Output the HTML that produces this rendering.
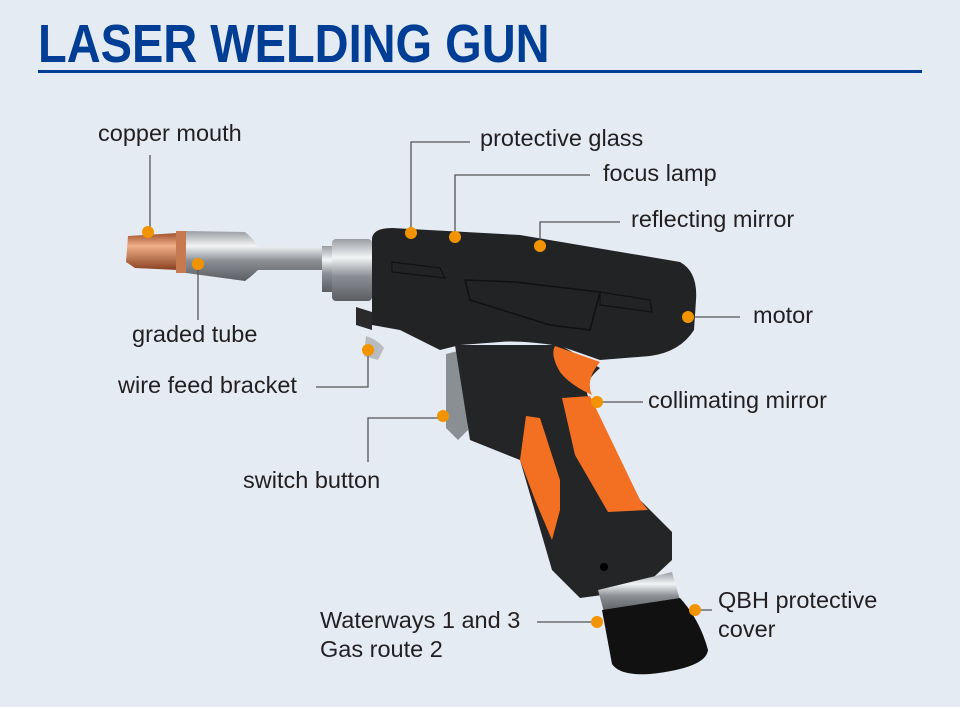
<!DOCTYPE html>
<html><head><meta charset="utf-8"><style>
html,body{margin:0;padding:0;background:#e5ebf3;}
#c{position:relative;width:960px;height:707px;overflow:hidden;background:#e5ebf3;font-family:"Liberation Sans",sans-serif;}
.t{position:absolute;font-size:23.5px;color:#231f20;white-space:nowrap;line-height:1;}
h1{position:absolute;left:38px;top:17px;margin:0;font-family:"Liberation Sans",sans-serif;font-weight:bold;font-size:54px;color:#003d94;letter-spacing:0px;transform:scaleX(0.87);transform-origin:left;line-height:1;white-space:nowrap;}
</style></head><body><div id="c">
<h1>LASER WELDING GUN</h1>
<div style="position:absolute;left:38px;top:70px;width:884px;height:3px;background:#003d94"></div>
<svg width="960" height="707" style="position:absolute;left:0;top:0">
<defs>
<linearGradient id="sv" x1="0" y1="0" x2="0" y2="1"><stop offset="0" stop-color="#9a9ea3"/><stop offset="0.3" stop-color="#f2f4f5"/><stop offset="0.6" stop-color="#8b8f94"/><stop offset="1" stop-color="#5a5e62"/></linearGradient>
<linearGradient id="cu" x1="0" y1="0" x2="0" y2="1"><stop offset="0" stop-color="#a0522d"/><stop offset="0.35" stop-color="#f0b08a"/><stop offset="1" stop-color="#8a4020"/></linearGradient>
</defs>
<path d="M128,236 L178,233 L178,270 L135,268 L126,262 Z" fill="url(#cu)"/>
<rect x="176" y="231" width="12" height="42" fill="#c77a4f"/>
<path d="M186,231 L245,232 Q255,240 258,247 L330,248 L330,270 L258,270 Q252,276 245,281 L186,273 Z" fill="url(#sv)"/>
<rect x="322" y="246" width="12" height="46" fill="url(#sv)"/>
<rect x="332" y="239" width="40" height="62" rx="4" fill="url(#sv)"/>
<path d="M372,238 Q374,228 392,228 L520,235 L680,262 Q698,272 696,300 L694,330 Q680,352 650,356 L600,360 L560,346 Q520,340 500,342 L460,345 L440,350 L400,330 L372,325 Z" fill="#222325"/>
<path d="M356,307 L372,312 L372,330 L356,325 Z" fill="#2a2a2c"/>
<path d="M366,336 Q378,340 384,348 L378,360 L364,356 Z" fill="#b8bcc0"/>
<path d="M446,354 L462,350 L468,430 L458,440 L446,428 Z" fill="#8a8f94"/>
<path d="M455,345 L560,345 L600,368 Q580,385 590,400 L640,500 L672,532 L672,560 L640,590 L580,598 L552,570 L520,460 L470,440 Z" fill="#242527"/>
<path d="M555,346 L600,362 Q585,380 592,395 Q570,385 560,372 Q550,355 555,346 Z" fill="#f36f21"/>
<path d="M562,398 L590,396 L640,500 L648,510 L608,512 L575,455 Z" fill="#f36f21"/>
<path d="M526,416 L540,418 L560,480 L560,510 L552,540 L535,500 L520,460 Z" fill="#f36f21"/>
<path d="M465,280 L515,282 L600,292 L590,330 L550,325 L470,300 Z" fill="none" stroke="#111" stroke-width="1.5"/>
<path d="M392,262 L440,268 L445,278 L392,272 Z M600,292 L650,300 L652,312 L600,305 Z" fill="none" stroke="#111" stroke-width="1.2"/>
<path d="M598,590 L672,572 L680,600 L604,612 Z" fill="url(#sv)"/>
<path d="M602,610 L680,598 Q700,620 708,650 Q706,668 650,674 Q620,676 612,664 Z" fill="#111"/>
<circle cx="604" cy="567" r="4" fill="#000"/>
<g stroke="#555" stroke-width="1.3" fill="none">
<path d="M150,155 V232"/><path d="M198,264 V320"/>
<path d="M470,142 H411 V233"/><path d="M590,175 H455 V237"/><path d="M620,222 H540 V246"/>
<path d="M688,317 H740"/><path d="M316,387 H368 V350"/><path d="M597,402 H643"/>
<path d="M368,462 V418 H443"/><path d="M537,622 H597"/><path d="M695,610 H712"/>
</g>
<g fill="#f29400">
<circle cx="148" cy="232" r="6"/><circle cx="198" cy="264" r="6"/><circle cx="411" cy="233" r="6"/>
<circle cx="455" cy="237" r="6"/><circle cx="540" cy="246" r="6"/><circle cx="688" cy="317" r="6"/>
<circle cx="368" cy="350" r="6"/><circle cx="597" cy="402" r="6"/><circle cx="443" cy="416" r="6"/>
<circle cx="597" cy="622" r="6"/><circle cx="695" cy="610" r="6"/>
</g>
</svg>
<div class="t" style="left:98px;top:122px">copper mouth</div>
<div class="t" style="left:480px;top:127px">protective glass</div>
<div class="t" style="left:603px;top:162px">focus lamp</div>
<div class="t" style="left:631px;top:208px">reflecting mirror</div>
<div class="t" style="left:753px;top:304px">motor</div>
<div class="t" style="left:132px;top:323px">graded tube</div>
<div class="t" style="left:118px;top:374px">wire feed bracket</div>
<div class="t" style="left:648px;top:389px">collimating mirror</div>
<div class="t" style="left:243px;top:469px">switch button</div>
<div class="t" style="left:320px;top:609px">Waterways 1 and 3</div>
<div class="t" style="left:320px;top:638px">Gas route 2</div>
<div class="t" style="left:718px;top:589px">QBH protective</div>
<div class="t" style="left:718px;top:618px">cover</div>
</div></body></html>
